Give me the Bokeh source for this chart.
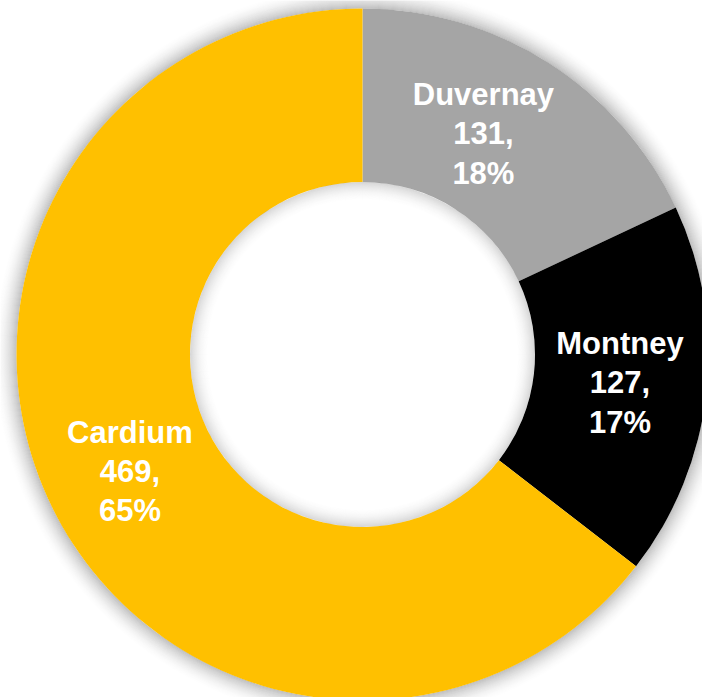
import math
import numpy as np
from bokeh.plotting import figure
from bokeh.models import ColumnDataSource
from bokeh.core.properties import value
from bokeh.embed import file_html
from bokeh.resources import INLINE

categories = ["Duvernay", "Montney", "Cardium"]
values = [131, 127, 469]
colors = ["#A5A5A5", "#000000", "#FFC000"]

W, H = 702, 697
cx, cy = 362, H - 354
r_out, r_in = 346, 172.5
label_r = 259
label_dx = [-18, 0, 0]   # small placement nudges (pixels)
label_dy = [2, 0, -3]

total = sum(values)
fracs = [v / total for v in values]
starts, ends, lx, ly, texts = [], [], [], [], []
acc = 0.0
for c, v, f, dx, dy in zip(categories, values, fracs, label_dx, label_dy):
    a0 = math.pi / 2 - acc * 2 * math.pi
    a1 = math.pi / 2 - (acc + f) * 2 * math.pi
    starts.append(a0)
    ends.append(a1)
    mid = (a0 + a1) / 2
    lx.append(cx + label_r * math.cos(mid) + dx)
    ly.append(cy + label_r * math.sin(mid) + dy)
    texts.append(f"{c}\n{v},\n{round(f * 100)}%")
    acc += f

src = ColumnDataSource(dict(start=starts, end=ends, color=colors, x=lx, y=ly, text=texts))

p = figure(width=W, height=H, x_range=(0, W), y_range=(0, H),
           output_backend="svg", toolbar_location=None, min_border=0)
p.axis.visible = False
p.grid.visible = False
p.outline_line_color = None
p.background_fill_color = "white"
p.border_fill_color = "white"

# outer soft shadow
n = 24
for i in range(n):
    a = 0.25 * (1 - i / n) ** 2
    p.annulus(x=cx, y=cy, inner_radius=r_out + i, outer_radius=r_out + i + 1,
              fill_color="black", fill_alpha=a, line_color=None)

p.annular_wedge(x=cx, y=cy, inner_radius=r_in, outer_radius=r_out,
                start_angle="start", end_angle="end", direction="clock",
                fill_color="color", line_color=None, source=src)

# inner soft shadow in the hole
n2 = 20
for i in range(n2):
    a = 0.16 * (1 - i / n2) ** 2
    p.annulus(x=cx, y=cy, inner_radius=r_in - i - 1, outer_radius=r_in - i,
              fill_color="black", fill_alpha=a, line_color=None)

p.text(x="x", y="y", text="text", source=src, text_color="white",
       text_font=value("Liberation Sans"), text_font_style="bold",
       text_font_size="31px", text_align="center", text_baseline="middle",
       text_line_height=1.12)

open("out.html", "w").write(file_html(p, INLINE))
